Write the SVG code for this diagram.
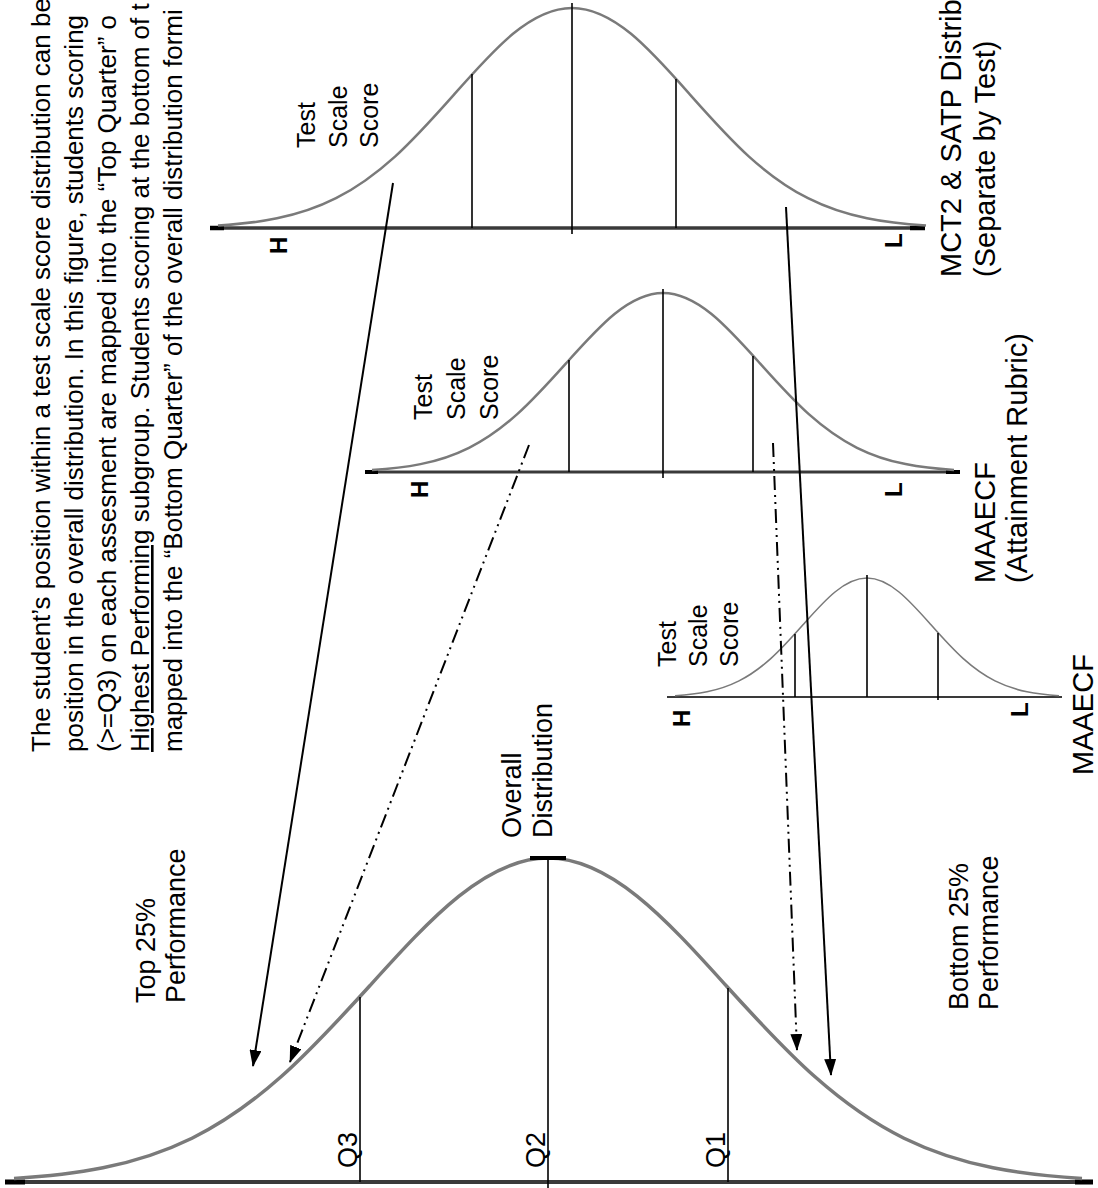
<svg xmlns="http://www.w3.org/2000/svg" width="1098" height="1188" viewBox="0 0 1098 1188">
<style>
text{font-family:"Liberation Sans",Arial,sans-serif;fill:#000}
.para{font-size:26px}
.lbl{font-size:25px}
.hl{font-size:24px;font-weight:bold}
.big{font-size:29px}
.curve{fill:none;stroke:#7a7a7a;stroke-linejoin:round}
.base{stroke:#3a3a3a;fill:none}
.tick{stroke:#000;stroke-width:1.6}
.conn{stroke:#000;stroke-width:2;fill:none}
.dash{stroke-dasharray:14 5 2 5 2 5}
</style>
<defs>
<marker id="ah" markerUnits="userSpaceOnUse" markerWidth="17" markerHeight="12" refX="16" refY="6" orient="auto">
<path d="M0 0 L17 6 L0 12 z" fill="#000"/>
</marker>
</defs>

<g id="paragraph" class="para">
<text transform="translate(50 752) rotate(-90)">The student’s position within a test scale score distribution can be</text>
<text transform="translate(83 752) rotate(-90)">position in the overall distribution. In this figure, students scoring</text>
<text transform="translate(116 752) rotate(-90)">(&gt;=Q3) on each assesment are mapped into the “Top Quarter” o</text>
<text transform="translate(149 752) rotate(-90)"><tspan text-decoration="underline">Highest Performing</tspan> subgroup. Students scoring at the bottom of t</text>
<text transform="translate(182 752) rotate(-90)">mapped into the “Bottom Quarter” of the overall distribution formi</text>
</g>

<g id="mct2-satp">
<line class="base" x1="210" y1="228" x2="925" y2="228" stroke-width="3.5"/>
<line stroke="#000" stroke-width="4.5" x1="210" y1="228" x2="224" y2="228"/>
<line stroke="#000" stroke-width="4.5" x1="910" y1="228" x2="925" y2="228"/>
<path class="curve" stroke-width="2.5" d="M218 225.6 C237.7 224.3 257.3 222.4 277 218.3 C296.7 214.3 316.3 208.2 336 198.2 C355.7 188.3 375.3 174.4 395 156.6 C414.7 138.7 434.3 116.8 454 94.6 C473.7 72.3 493.3 50 513 33.8 C532.7 17.7 552.3 8 572 8 C591.7 8 611.3 17.7 631 33.8 C650.7 50 670.3 72.3 690 94.6 C709.7 116.8 729.3 138.7 749 156.6 C768.7 174.4 788.3 188.3 808 198.2 C827.7 208.2 847.3 214.3 867 218.3 C886.7 222.4 906.3 224.3 926 225.6"/>
<line class="tick" x1="472" y1="74" x2="472" y2="228"/>
<line class="tick" x1="572" y1="3" x2="572" y2="234"/>
<line class="tick" x1="676" y1="79" x2="676" y2="228"/>
<g class="lbl">
<text transform="translate(315 148) rotate(-90)">Test</text>
<text transform="translate(347 148) rotate(-90)">Scale</text>
<text transform="translate(378 148) rotate(-90)">Score</text>
</g>
<g class="hl">
<text transform="translate(287 254) rotate(-90)">H</text>
<text transform="translate(902 248) rotate(-90)">L</text>
</g>
<g class="big">
<text transform="translate(961 277) rotate(-90)">MCT2 &amp; SATP Distrib</text>
<text transform="translate(995 277) rotate(-90)">(Separate by Test)</text>
</g>
</g>

<g id="maaecf-rubric">
<line class="base" x1="365" y1="472" x2="960" y2="472" stroke-width="3"/>
<line stroke="#000" stroke-width="4" x1="365" y1="472" x2="378" y2="472"/>
<line stroke="#000" stroke-width="4" x1="946" y1="472" x2="960" y2="472"/>
<path class="curve" stroke-width="2.5" d="M372 470 C388.2 469 404.3 467.4 420.5 464.1 C436.7 460.9 452.8 455.9 469 447.8 C485.2 439.7 501.3 428.4 517.5 413.9 C533.7 399.3 549.8 381.5 566 363.4 C582.2 345.3 598.3 327.2 614.5 314 C630.7 300.9 646.8 293 663 293 C679.2 293 695.3 300.9 711.5 314 C727.7 327.2 743.8 345.3 760 363.4 C776.2 381.5 792.3 399.3 808.5 413.9 C824.7 428.4 840.8 439.7 857 447.8 C873.2 455.9 889.3 460.9 905.5 464.1 C921.7 467.4 937.8 469 954 470"/>
<line class="tick" x1="569" y1="360" x2="569" y2="472"/>
<line class="tick" x1="663" y1="289" x2="663" y2="478"/>
<line class="tick" x1="753" y1="356" x2="753" y2="472"/>
<g class="lbl">
<text transform="translate(432 420) rotate(-90)">Test</text>
<text transform="translate(465 420) rotate(-90)">Scale</text>
<text transform="translate(498 420) rotate(-90)">Score</text>
</g>
<g class="hl">
<text transform="translate(428 498) rotate(-90)">H</text>
<text transform="translate(902 497) rotate(-90)">L</text>
</g>
<g class="big">
<text transform="translate(995 583) rotate(-90)">MAAECF</text>
<text transform="translate(1027 583) rotate(-90)">(Attainment Rubric)</text>
</g>
</g>

<g id="maaecf">
<line class="base" x1="667" y1="697" x2="1062" y2="697" stroke-width="2"/>
<path class="curve" stroke-width="1.6" d="M675 695.7 C685.7 695 696.3 694 707 691.8 C717.7 689.6 728.3 686.3 739 680.9 C749.7 675.5 760.3 668 771 658.4 C781.7 648.7 792.3 636.9 803 624.8 C813.7 612.8 824.3 600.7 835 592 C845.7 583.2 856.3 578 867 578 C877.7 578 888.3 583.2 899 592 C909.7 600.7 920.3 612.8 931 624.8 C941.7 636.9 952.3 648.7 963 658.4 C973.7 668 984.3 675.5 995 680.9 C1005.7 686.3 1016.3 689.6 1027 691.8 C1037.7 694 1048.3 695 1059 695.7"/>
<line class="tick" x1="795" y1="634" x2="795" y2="697"/>
<line class="tick" x1="867" y1="575" x2="867" y2="697"/>
<line class="tick" x1="938" y1="633" x2="938" y2="700"/>
<g class="lbl">
<text transform="translate(676 667) rotate(-90)">Test</text>
<text transform="translate(707 667) rotate(-90)">Scale</text>
<text transform="translate(738 667) rotate(-90)">Score</text>
</g>
<g class="hl">
<text transform="translate(690 727) rotate(-90)">H</text>
<text transform="translate(1028 717) rotate(-90)">L</text>
</g>
<text class="big" transform="translate(1093 775) rotate(-90)">MAAECF</text>
</g>

<g id="overall">
<line class="base" x1="5" y1="1182" x2="1093" y2="1182" stroke-width="4"/>
<line stroke="#000" stroke-width="5" x1="5" y1="1182" x2="25" y2="1182"/>
<line stroke="#000" stroke-width="5" x1="1075" y1="1182" x2="1093" y2="1182"/>
<path class="curve" stroke-width="3.5" d="M14 1178.4 C43.7 1176.6 73.3 1173.7 103 1167.8 C132.7 1161.8 162.3 1152.8 192 1138.2 C221.7 1123.6 251.3 1103.1 281 1076.8 C310.7 1050.5 340.3 1018.3 370 985.5 C399.7 952.7 429.3 919.9 459 896.1 C488.7 872.3 518.3 858 548 858 C577.7 858 607.3 872.3 637 896.1 C666.7 919.9 696.3 952.7 726 985.5 C755.7 1018.3 785.3 1050.5 815 1076.8 C844.7 1103.1 874.3 1123.6 904 1138.2 C933.7 1152.8 963.3 1161.8 993 1167.8 C1022.7 1173.7 1052.3 1176.6 1082 1178.4"/>
<line stroke="#000" stroke-width="4" x1="530" y1="858" x2="566" y2="858"/>
<line class="tick" x1="360" y1="997" x2="360" y2="1182"/>
<line class="tick" stroke-width="2" x1="548" y1="858" x2="548" y2="1188"/>
<line class="tick" x1="728" y1="988" x2="728" y2="1182"/>
<g style="font-size:27px">
<text transform="translate(521 838) rotate(-90)">Overall</text>
<text transform="translate(552 838) rotate(-90)">Distribution</text>
<text transform="translate(357 1168) rotate(-90)">Q3</text>
<text transform="translate(545 1168) rotate(-90)">Q2</text>
<text transform="translate(725 1168) rotate(-90)">Q1</text>
<text transform="translate(155 1003) rotate(-90)">Top 25%</text>
<text transform="translate(185 1003) rotate(-90)">Performance</text>
<text transform="translate(968 1010) rotate(-90)">Bottom 25%</text>
<text transform="translate(998 1010) rotate(-90)">Performance</text>
</g>
</g>

<g id="connectors">
<line class="conn" x1="393" y1="183" x2="253" y2="1066" marker-end="url(#ah)"/>
<line class="conn dash" x1="529" y1="445" x2="290" y2="1062" marker-end="url(#ah)"/>
<line class="conn dash" x1="773" y1="443" x2="797" y2="1050" marker-end="url(#ah)"/>
<line class="conn" x1="786" y1="207" x2="831" y2="1075" marker-end="url(#ah)"/>
</g>
</svg>
